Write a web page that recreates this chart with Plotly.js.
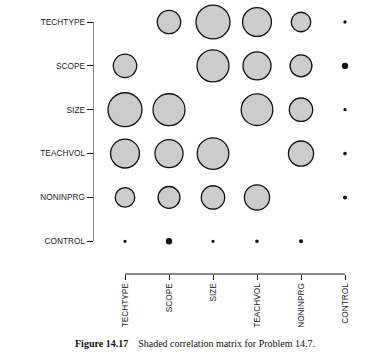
<!DOCTYPE html>
<html>
<head>
<meta charset="utf-8">
<script src="https://cdn.plot.ly/plotly-3.0.1.min.js"></script>
<style>html,body{margin:0;padding:0;background:#fff;}#chart{width:368px;height:359px;}</style>
</head>
<body>
<div id="chart"></div>
<script>
// Variable names (rows top-to-bottom, columns left-to-right)
const variables = ["TECHTYPE", "SCOPE", "SIZE", "TEACHVOL", "NONINPRG", "CONTROL"];

// Estimated |correlation| values (diagonal left blank)
const rowTECHTYPE = [null, 0.60, 0.87, 0.74, 0.50, 0.05];
const rowSCOPE    = [0.60, null, 0.82, 0.72, 0.56, 0.13];
const rowSIZE     = [0.87, 0.82, null, 0.81, 0.60, 0.05];
const rowTEACHVOL = [0.74, 0.72, 0.81, null, 0.645, 0.06];
const rowNONINPRG = [0.50, 0.56, 0.60, 0.645, null, 0.07];
const rowCONTROL  = [0.05, 0.13, 0.05, 0.06, 0.07, null];

const corrRows = [rowTECHTYPE, rowSCOPE, rowSIZE, rowTEACHVOL, rowNONINPRG, rowCONTROL];

const xs = [], ys = [], sizes = [], fills = [];
corrRows.forEach((row, i) => {
  row.forEach((v, j) => {
    if (v === null) return;
    xs.push(variables[j]);
    ys.push(variables[i]);
    sizes.push(Math.abs(v) * 39);
    fills.push(Math.abs(v) < 0.2 ? "#151515" : "#cccccc");
  });
});

const W = 368, H = 359;
const trace = {
  type: "scatter",
  mode: "markers",
  x: xs, y: ys,
  cliponaxis: false,
  hoverinfo: "skip",
  marker: {
    size: sizes,
    sizemode: "diameter",
    opacity: 1,
    color: fills,
    line: {color: "#111111", width: 1.3}
  }
};

const labelFont = {family: "Liberation Sans, Arial, sans-serif", size: 8.3, color: "#1c1c2a"};

const layout = {
  width: W, height: H,
  margin: {l: 0, r: 0, t: 0, b: 0},
  paper_bgcolor: "#ffffff",
  plot_bgcolor: "rgba(0,0,0,0)",
  showlegend: false,
  xaxis: {
    type: "category",
    categoryorder: "array",
    categoryarray: variables,
    range: [0, 5],
    domain: [125 / W, 345 / W],
    anchor: "free",
    position: 1 - 273.3 / H,
    showgrid: false, zeroline: false,
    showline: true, linecolor: "#888888", linewidth: 1.5,
    ticks: "outside", ticklen: 5, tickwidth: 1, tickcolor: "#111111",
    tickangle: -90,
    tickfont: labelFont
  },
  yaxis: {
    type: "category",
    categoryorder: "array",
    categoryarray: variables,
    range: [5, 0],
    domain: [1 - 241.3 / H, 1 - 22 / H],
    anchor: "free",
    position: 92.7 / W,
    showgrid: false, zeroline: false,
    showline: true, linecolor: "#888888", linewidth: 1.5,
    ticks: "outside", ticklen: 6, tickwidth: 1, tickcolor: "#111111",
    tickfont: labelFont
  },
  annotations: [{
    xref: "paper", yref: "paper",
    x: 73 / W, y: 1 - 343 / H,
    xanchor: "left", yanchor: "middle",
    showarrow: false,
    text: "<b>Figure 14.17</b>\u2002\u2002Shaded correlation matrix for Problem 14.7.",
    font: {family: "Liberation Serif, Times New Roman, serif", size: 10, color: "#111111"}
  }]
};

Plotly.newPlot("chart", [trace], layout, {staticPlot: true, displayModeBar: false});
</script>
</body>
</html>
